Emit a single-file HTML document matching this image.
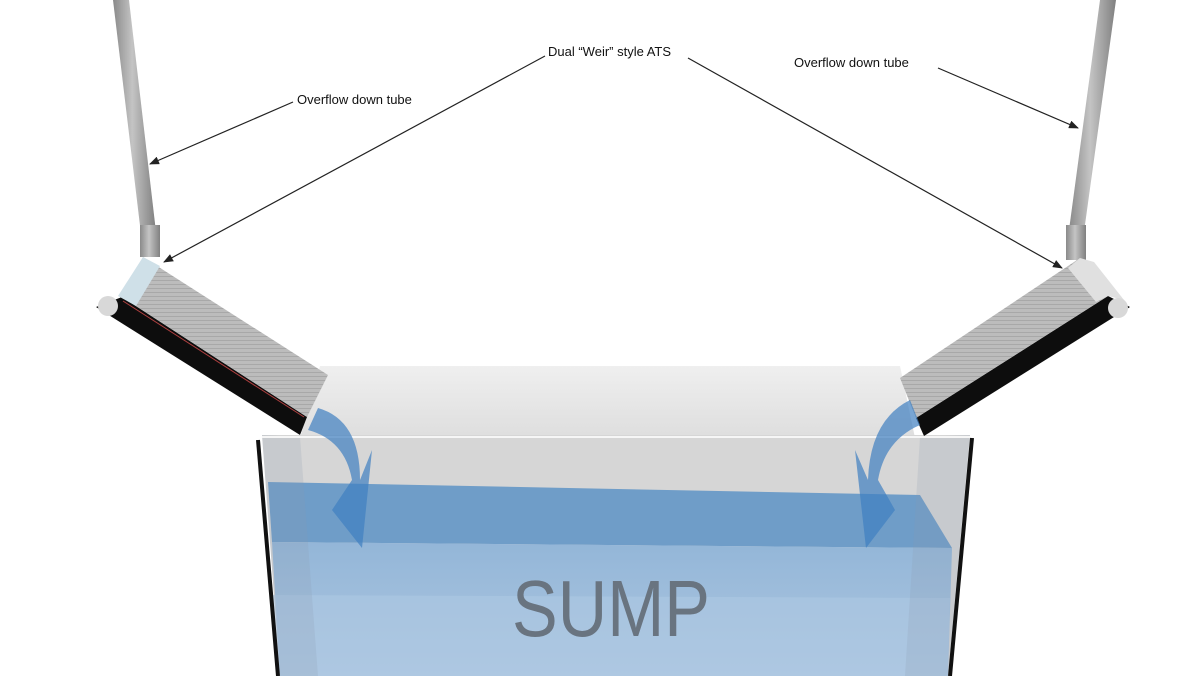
<!DOCTYPE html>
<html><head><meta charset="utf-8"><style>
html,body{margin:0;padding:0;background:#fff;width:1200px;height:676px;overflow:hidden}
svg{display:block}
text{font-family:"Liberation Sans",sans-serif;font-size:13px;fill:#111}
</style></head><body>
<svg width="1200" height="676" viewBox="0 0 1200 676">
<defs>
<linearGradient id="tube" x1="0" x2="1" y1="0" y2="0">
<stop offset="0" stop-color="#8a8a8a"/><stop offset="0.45" stop-color="#c4c4c4"/><stop offset="1" stop-color="#808080"/></linearGradient>
<linearGradient id="water" x1="0" x2="0" y1="0" y2="1">
<stop offset="0" stop-color="#93b6d8"/><stop offset="1" stop-color="#aec7e0"/></linearGradient>
<linearGradient id="glass" x1="0" x2="0" y1="0" y2="1">
<stop offset="0" stop-color="#efefef"/><stop offset="1" stop-color="#dedede"/></linearGradient>
<pattern id="stripes" width="4" height="4" patternUnits="userSpaceOnUse">
<rect width="4" height="4" fill="#bcbcbc"/><rect width="4" height="1" fill="#a8a8a8"/></pattern>
<marker id="ah" markerWidth="10" markerHeight="8" refX="9" refY="4" orient="auto" markerUnits="userSpaceOnUse">
<path d="M0,0 L10,4 L0,8 Z" fill="#222"/></marker>
</defs>

<polygon points="320,366 900,366 915,438 300,438" fill="url(#glass)"/>
<polygon points="262,435 970,435 948,676 280,676" fill="#d6d6d6"/>
<polygon points="268,482 920,495 952,548 272,542" fill="#6f9dc8"/>
<polygon points="272,542 952,548 948,676 280,676" fill="url(#water)"/>
<polygon points="272,595 950,598 948,676 280,676" fill="#aec8e2" opacity="0.6"/>
<polygon points="262,435 300,437 318,676 280,676" fill="#8a9bb0" opacity="0.2"/>
<polygon points="920,437 970,435 948,676 905,676" fill="#8a9bb0" opacity="0.2"/>
<line x1="262" y1="437" x2="970" y2="437" stroke="#f6f6f6" stroke-width="2"/>
<polyline points="258,440 278,676" fill="none" stroke="#111" stroke-width="4"/>
<polyline points="972,438 950,676" fill="none" stroke="#111" stroke-width="4"/>

<text x="512" y="636" textLength="198" lengthAdjust="spacingAndGlyphs" style="font-size:80px;fill:#697480">SUMP</text>

<polygon points="113,0 129,0 156,232 141,234" fill="url(#tube)"/>
<rect x="140" y="225" width="20" height="32" fill="url(#tube)"/>
<polygon points="1100,0 1116,0 1084,232 1069,230" fill="url(#tube)"/>
<rect x="1066" y="225" width="20" height="35" fill="url(#tube)"/>

<!-- left ATS -->
<polygon points="122,297 307,417 300,435 96,307" fill="#0d0d0d"/>
<polygon points="143,257 328,375 307,417 122,297" fill="url(#stripes)"/>
<polygon points="143,257 160,266 136,306 118,296" fill="#cfe0e8"/>
<line x1="123" y1="301" x2="304" y2="417" stroke="#b04040" stroke-width="1"/>
<circle cx="108" cy="306" r="10" fill="#d8d8d8"/>
<!-- right ATS -->
<polygon points="1108,296 916,418 924,436 1130,307" fill="#0d0d0d"/>
<polygon points="1080,258 1108,296 916,418 900,378" fill="url(#stripes)"/>
<polygon points="1080,258 1094,262 1124,300 1108,296 1096,302 1068,268" fill="#e0e0e0"/>
<circle cx="1118" cy="308" r="10" fill="#d8d8d8"/>

<path d="M318,408 Q360,420 360,480 L372,450 L362,548 L332,510 L352,480 Q345,440 308,430 Z" fill="#3f7fc0" opacity="0.7"/>
<path d="M910,400 Q870,420 868,480 L855,450 L866,548 L895,510 L878,480 Q885,440 920,425 Z" fill="#3f7fc0" opacity="0.7"/>

<text x="548" y="56">Dual “Weir” style ATS</text>
<text x="297" y="104">Overflow down tube</text>
<text x="794" y="67">Overflow down tube</text>
<g stroke="#222" stroke-width="1.2" fill="none">
<line x1="545" y1="56" x2="164" y2="262" marker-end="url(#ah)"/>
<line x1="688" y1="58" x2="1062" y2="268" marker-end="url(#ah)"/>
<line x1="293" y1="102" x2="150" y2="164" marker-end="url(#ah)"/>
<line x1="938" y1="68" x2="1078" y2="128" marker-end="url(#ah)"/>
</g>
</svg>
</body></html>
